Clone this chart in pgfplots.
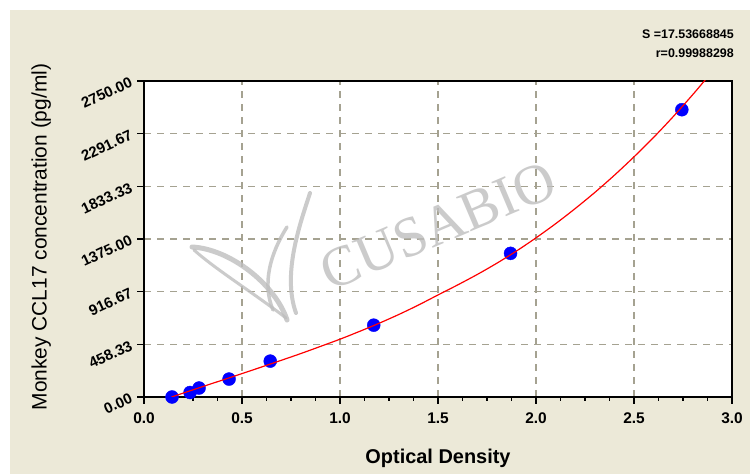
\documentclass[border=0pt]{standalone}
\usepackage{fontspec}
\setmainfont{Liberation Sans}
\newfontfamily\wmfont{Liberation Serif}
\usepackage{pgfplots}
\pgfplotsset{compat=1.18}

\definecolor{bgbeige}{HTML}{ECE9D8}
\definecolor{gridgray}{RGB}{165,162,145}
\definecolor{markblue}{RGB}{0,0,255}
\definecolor{wmgray}{RGB}{190,190,190}

\begin{document}
\begin{tikzpicture}
\begin{scope}[x=1bp,y=1bp]
\useasboundingbox (0,0) rectangle (750,474);
\fill[white] (0,0) rectangle (750,474);
\fill[bgbeige] (9.5,0) rectangle (750,464);
\end{scope}

\begin{axis}[
    at={(144bp,77bp)}, anchor=south west,
    scale only axis, width=588bp, height=316bp,
    xmin=0, xmax=3, ymin=0, ymax=2750,
    axis background/.style={fill=white},
    axis line style={black, line width=1.5bp},
    xtick={0,0.5,1,1.5,2,2.5,3},
    xticklabels={0.0,0.5,1.0,1.5,2.0,2.5,3.0},
    ytick={0,458.33,916.67,1375,1833.33,2291.67,2750},
    yticklabels={0.00,458.33,916.67,1375.00,1833.33,2291.67,2750.00},
    minor x tick num=3, minor y tick num=3,
    xtick pos=bottom, ytick pos=left,
    tick align=outside,
    major tick length=7bp, minor tick length=4bp,
    tick style={black, line width=1.2bp},
    grid=major,
    major grid style={gridgray, line width=1.5bp, dash pattern=on 7bp off 6bp},
    xticklabel style={font=\fontsize{15.5}{17}\selectfont\bfseries, yshift=-5bp},
    yticklabel style={font=\fontsize{15}{17}\selectfont\bfseries, rotate=25, anchor=east, yshift=2bp, xshift=-2bp},
    xlabel={Optical Density},
    xlabel style={font=\fontsize{20}{23}\selectfont\bfseries, at={(axis description cs:0.5,-0.195)}, anchor=center},
    ylabel={Monkey CCL17 concentration (pg/ml)},
    ylabel style={font=\fontsize{21}{24}\selectfont, at={(axis description cs:-0.175,0.506)}, anchor=center, rotate=0},
    clip mode=individual,
]
% watermark
\node[font=\wmfont\fontsize{57}{57}\selectfont, text=wmgray, rotate=23, opacity=0.8]
    at (axis cs:1.5,1490) {CUSABIO};

% standards
\addplot[only marks, mark=*, mark size=6.5bp, mark options={fill=markblue, draw=markblue}]
coordinates {
(0.143,0) (0.235,39) (0.281,78) (0.434,156) (0.644,312)
(1.172,625) (1.870,1250) (2.744,2500)
};

% fitted curve
\addplot[red, line width=1.2bp, smooth]
coordinates {
(0.14,0) (0.2,34) (0.3,91) (0.4,147) (0.5,204) (0.6,261) (0.7,319)
(0.8,378) (0.9,440) (1.0,503) (1.1,571) (1.2,642) (1.3,718) (1.4,800)
(1.5,888) (1.6,975) (1.7,1066) (1.8,1164) (1.9,1270) (2.0,1385)
(2.1,1508) (2.2,1640) (2.3,1780) (2.4,1930) (2.5,2090) (2.6,2259)
(2.7,2440) (2.8,2632) (2.87,2773)
};
\end{axis}

\begin{scope}[x=1bp,y=1bp]
% logo swoosh of the watermark
\begin{scope}[wmgray, line cap=round, opacity=0.8]
\draw[line width=5bp] (192,227) .. controls (230,225) and (275,190) .. (287,154);
\draw[line width=3bp] (194,224) .. controls (215,205) and (255,180) .. (286,156);
\draw[line width=4bp] (310,281) .. controls (300,250) and (282,200) .. (296,161);
\draw[line width=3.5bp] (287,247) .. controls (270,220) and (262,190) .. (273,164);
\end{scope}

% fit statistics
\node[anchor=east, font=\fontsize{12.5}{13}\selectfont\bfseries, inner sep=0] at (734,440) {S =17.53668845};
\node[anchor=east, font=\fontsize{12.5}{13}\selectfont\bfseries, inner sep=0] at (734,421) {r=0.99988298};
\end{scope}
\end{tikzpicture}
\end{document}
